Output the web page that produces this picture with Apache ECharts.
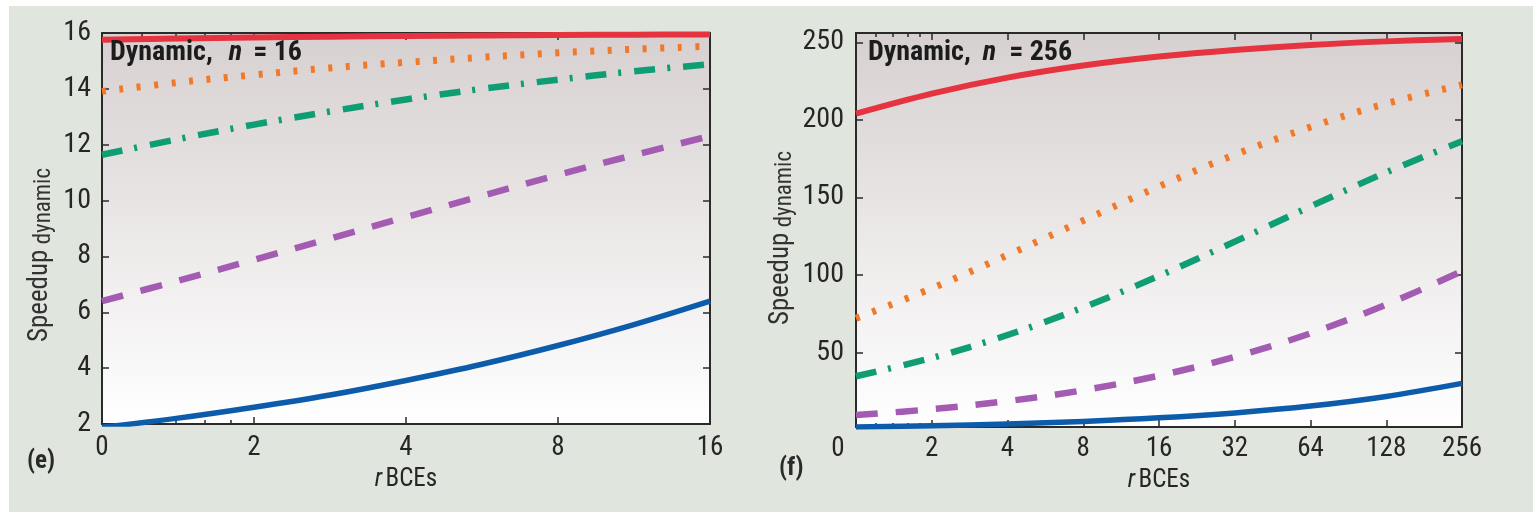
<!DOCTYPE html>
<html>
<head>
<meta charset="utf-8">
<script src="https://cdn.jsdelivr.net/npm/echarts@6/dist/echarts.min.js"></script>
<style>
html,body{margin:0;padding:0;background:#ffffff;}
#bg{position:absolute;left:9px;top:6px;right:0;bottom:0;background:#e0e5de;}
#chart{position:absolute;left:0;top:0;width:1533px;height:512px;}
</style>
</head>
<body>
<div id="bg"></div>
<div id="chart"></div>
<script>
// ---------- data (x = log2 of r BCEs, label "0" sits at r = 1) ----------
const leftX = [0, 0.5, 1, 1.5, 2, 2.5, 3, 3.5, 4];
const rightX = [0, 1, 2, 3, 4, 5, 6, 7, 8];
const leftXTickLabels = ['0', '2', '4', '8', '16'];
const rightXTickLabels = ['0', '2', '4', '8', '16', '32', '64', '128', '256'];
const leftXMajor = [0, 1, 2, 3, 4];
const rightXMajor = [0, 1, 2, 3, 4, 5, 6, 7, 8];
const minorTickPos = [0.263, 0.485, 0.678, 0.848];
const leftYTicks = [2, 4, 6, 8, 10, 12, 14, 16];
const rightYTicks = [50, 100, 150, 200, 250];

// n = 16 panel
const left999 = [15.76, 15.80, 15.84, 15.87, 15.89, 15.91, 15.93, 15.94, 15.95];
const left99  = [13.91, 14.23, 14.50, 14.75, 14.95, 15.13, 15.29, 15.42, 15.53];
const left975 = [11.64, 12.20, 12.72, 13.19, 13.62, 14.00, 14.33, 14.63, 14.88];
const left9   = [6.40, 7.13, 7.88, 8.64, 9.41, 10.17, 10.92, 11.63, 12.31];
const left5   = [1.88, 2.21, 2.60, 3.04, 3.56, 4.14, 4.81, 5.56, 6.40];

// n = 256 panel
const right999 = [204.0, 216.9, 227.2, 235.0, 240.8, 245.1, 248.3, 250.6, 252.2];
const right99  = [72.1, 91.4, 112.8, 135.1, 157.1, 177.5, 195.4, 210.5, 222.6];
const right975 = [34.7, 46.5, 61.3, 79.1, 99.4, 121.5, 144.2, 166.2, 186.2];
const right9   = [9.7, 13.5, 18.7, 25.7, 35.1, 47.2, 62.4, 80.9, 102.4];
const right5   = [2.0, 2.8, 4.0, 5.6, 7.9, 11.1, 15.5, 21.7, 30.1];

// ---------- styles ----------
const FONT = "'Roboto Condensed', 'Liberation Sans', Arial, sans-serif";
const AX = '#2a2a2a';
const TXT = '#262626';
const lineStyles = [
  {color: '#e5333f', width: 6, type: 'solid'},
  {color: '#f07a2a', width: 7, type: [4, 13.5]},
  {color: '#0f9e74', width: 6.5, type: [21, 12, 3, 13]},
  {color: '#a35cb1', width: 6.5, type: [22, 18]},
  {color: '#0d5bab', width: 5.5, type: 'solid'}
];

const chart = echarts.init(document.getElementById('chart'), null, {renderer: 'canvas'});

function bgGradient() {
  return new echarts.graphic.LinearGradient(0, 0, 0, 1, [
    {offset: 0, color: '#d7d0d0'},
    {offset: 1, color: '#ffffff'}
  ]);
}

function xAxes(grid, max, major, labels, labelMargin, nameGap, zeroShift) {
  const base = {
    gridIndex: grid, type: 'value', min: 0, max: max,
    splitLine: {show: false}
  };
  const main = Object.assign({}, base, {
    position: 'bottom',
    axisLine: {show: true, onZero: false, lineStyle: {color: AX, width: 2}},
    axisTick: {show: true, inside: true, length: 7, customValues: major, lineStyle: {color: AX, width: 1.5}},
    axisLabel: {
      show: true, customValues: major, margin: labelMargin,
      fontFamily: FONT, fontSize: 27, color: TXT,
      formatter: function (v) {
        const s = labels[Math.round(v)];
        return (Math.round(v) === 0 && zeroShift) ? '{z|' + s + '}' : s;
      },
      rich: {z: {fontFamily: FONT, fontSize: 27, color: TXT, padding: [0, zeroShift, 0, 0]}}
    },
    name: '{i|r} {n|BCEs}', nameLocation: 'middle', nameGap: nameGap,
    nameTextStyle: {
      rich: {
        i: {fontFamily: FONT, fontSize: 25, fontStyle: 'italic', color: TXT},
        n: {fontFamily: FONT, fontSize: 25, color: TXT}
      }
    }
  });
  const minor = Object.assign({}, base, {
    position: 'bottom',
    axisLine: {show: false, onZero: false},
    axisTick: {show: true, inside: true, length: 4, customValues: minorTickPos, lineStyle: {color: AX, width: 1.5}},
    axisLabel: {show: false}
  });
  const top = Object.assign({}, base, {
    position: 'top',
    axisLine: {show: true, onZero: false, lineStyle: {color: AX, width: 2}},
    axisTick: {show: true, inside: true, length: 7, customValues: major, lineStyle: {color: AX, width: 1.5}},
    axisLabel: {show: false}
  });
  const topMinor = Object.assign({}, base, {
    position: 'top',
    axisLine: {show: false, onZero: false},
    axisTick: {show: true, inside: true, length: 4, customValues: minorTickPos, lineStyle: {color: AX, width: 1.5}},
    axisLabel: {show: false}
  });
  return [main, minor, top, topMinor];
}

function yAxes(grid, min, max, ticks, margin) {
  const base = {gridIndex: grid, type: 'value', min: min, max: max, splitLine: {show: false}};
  return [
    Object.assign({}, base, {
      position: 'left',
      axisLine: {show: true, onZero: false, lineStyle: {color: AX, width: 2}},
      axisTick: {show: true, inside: true, length: 7, customValues: ticks, lineStyle: {color: AX, width: 1.5}},
      axisLabel: {show: true, customValues: ticks, margin: margin, fontFamily: FONT, fontSize: 28, color: TXT}
    }),
    Object.assign({}, base, {
      position: 'right',
      axisLine: {show: true, onZero: false, lineStyle: {color: AX, width: 2}},
      axisTick: {show: true, inside: true, length: 7, customValues: ticks, lineStyle: {color: AX, width: 1.5}},
      axisLabel: {show: false}
    })
  ];
}

function pairs(xs, ys) { return xs.map(function (x, i) { return [x, ys[i]]; }); }

function panelSeries(xs, sets, xIdx, yIdx) {
  return sets.map(function (ys, k) {
    return {
      type: 'line', xAxisIndex: xIdx, yAxisIndex: yIdx,
      data: pairs(xs, ys), symbol: 'none', smooth: 0.35, clip: true,
      lineStyle: Object.assign({cap: 'butt', join: 'round'}, lineStyles[k]),
      z: 3 + (4 - k)
    };
  });
}

function titleText(x, y, numText, nPad) {
  return {
    type: 'text', left: x, top: y, z: 20,
    style: {
      text: '{b|Dynamic,}{i|n}{b|' + numText + '}',
      rich: {
        b: {fontFamily: FONT, fontSize: 28, fontWeight: 'bold', fill: '#1c1c1c'},
        i: {fontFamily: FONT, fontSize: 28, fontWeight: 'bold', fontStyle: 'italic', fill: '#1c1c1c', padding: nPad}
      }
    }
  };
}

function yName(cx, cy) {
  return {
    type: 'text', x: cx, y: cy, rotation: Math.PI / 2, z: 20,
    style: {
      text: '{a|Speedup}{b| dynamic}',
      align: 'center', verticalAlign: 'middle',
      rich: {
        a: {fontFamily: FONT, fontSize: 27, fill: '#333', lineHeight: 32, verticalAlign: 'middle'},
        b: {fontFamily: FONT, fontSize: 23, fill: '#333', lineHeight: 32, verticalAlign: 'bottom'}
      }
    }
  };
}

const option = {
  backgroundColor: 'transparent',
  animation: false,
  grid: [
    {left: 102, top: 33, width: 608, height: 391, show: true, backgroundColor: bgGradient(), borderWidth: 0},
    {left: 856, top: 33, width: 606, height: 394, show: true, backgroundColor: bgGradient(), borderWidth: 0}
  ],
  xAxis: [].concat(
    xAxes(0, 4, leftXMajor, leftXTickLabels, 11, 38, 0),
    xAxes(1, 8, rightXMajor, rightXTickLabels, 9, 35, 36)
  ),
  yAxis: [].concat(
    yAxes(0, 2, 16, leftYTicks, 11),
    yAxes(1, 2, 256, rightYTicks, 12)
  ),
  series: [].concat(
    panelSeries(leftX, [left999, left99, left975, left9, left5], 0, 0),
    panelSeries(rightX, [right999, right99, right975, right9, right5], 4, 2)
  ),
  graphic: [
    titleText(110, 39, '= 16', [0, 11, 0, 16]),
    titleText(868, 39, '= 256', [0, 13, 0, 12]),
    yName(40, 255),
    yName(781, 238),
    {type: 'text', left: 27, top: 449, style: {text: '(e)', fontFamily: FONT, fontSize: 25, fontWeight: 'bold', fill: '#2a2a2a'}},
    {type: 'text', left: 779, top: 456, style: {text: '(f)', fontFamily: FONT, fontSize: 25, fontWeight: 'bold', fill: '#2a2a2a'}}
  ]
};
chart.setOption(option);
</script>
</body>
</html>
